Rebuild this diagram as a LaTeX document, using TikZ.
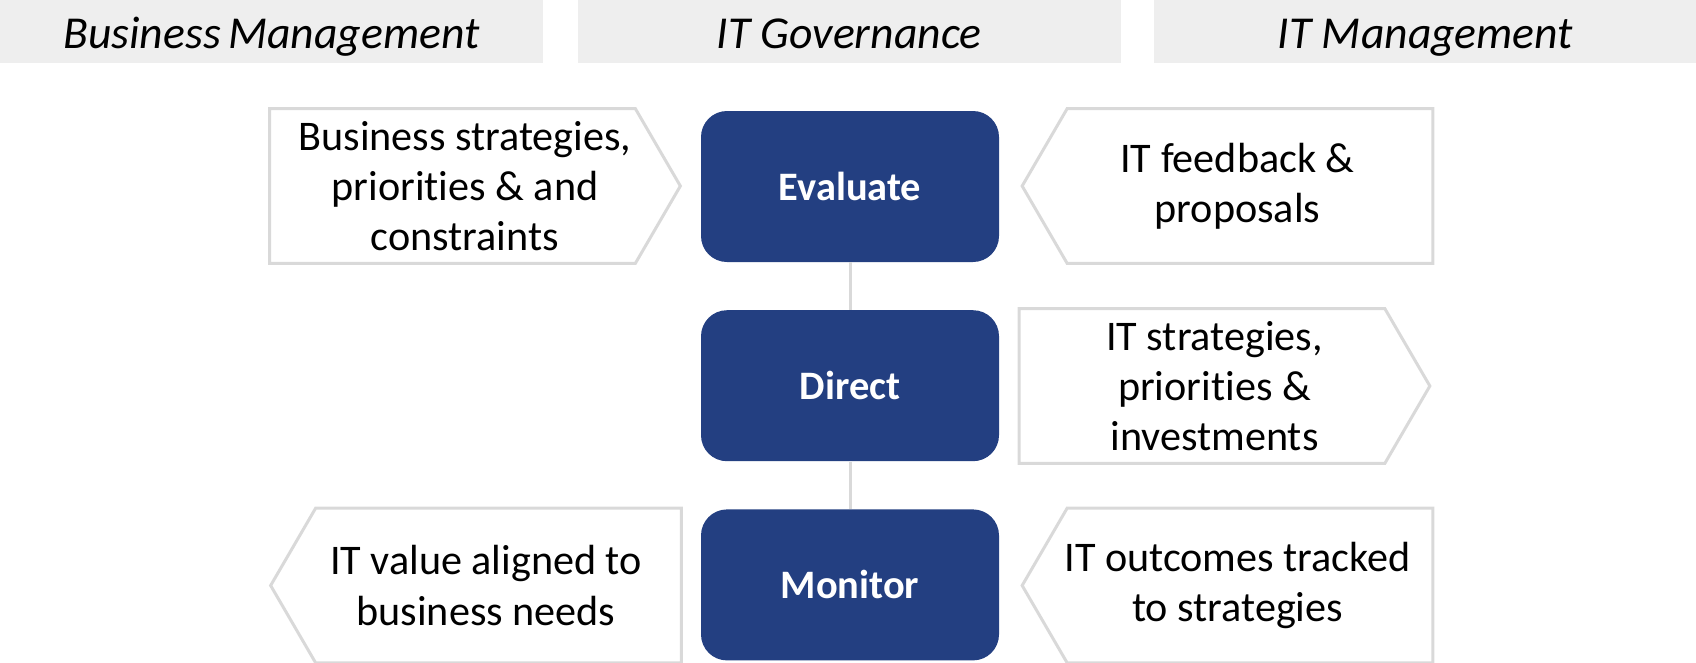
\documentclass[tikz,border=0pt]{standalone}
\usepackage{fontspec}
\setmainfont{Carlito}[Ligatures=NoCommon]
\usetikzlibrary{positioning, calc}
\definecolor{govblue}{HTML}{233F81}
\definecolor{govline}{HTML}{D9D9D9}
\definecolor{govhead}{HTML}{EEEEEE}

\begin{document}
\begin{tikzpicture}[
    head/.style={fill=govhead, minimum width=10.86cm, minimum height=1.26cm,
      inner sep=0pt, text height=22.8pt, text depth=4pt,
      font=\fontsize{26}{31}\selectfont\itshape},
    stage/.style={fill=govblue, rounded corners=0.52cm, minimum width=5.96cm,
      minimum height=3.02cm, text=white, font=\fontsize{23}{28}\selectfont\bfseries},
    note/.style={minimum width=7.8cm, minimum height=3.08cm, align=center,
      inner sep=0pt, font=\fontsize{24}{28.5}\selectfont},
    outline/.style={draw=govline, line width=0.06cm, line join=miter},
    link/.style={draw=govline, line width=0.06cm}
  ]
  \useasboundingbox (0,0) rectangle (33.92,-13.24);

  % column headings
  \node[head] (bm)  at (5.43,-0.63)  {Business\,Management};
  \node[head] (itg) at (16.98,-0.63) {IT Governance};
  \node[head] (itm) at (28.51,-0.63) {IT Management};

  % governance cycle
  \node[stage] (eval) at (17.0,-3.73) {Evaluate};
  \node[stage, below=0.95cm of eval] (direct) {Direct};
  \node[stage, below=0.95cm of direct] (monitor) {Monitor};
  \draw[link] (eval) -- (direct);
  \draw[link] (direct) -- (monitor);

  % inputs and outputs (the text sits a bit towards the tip)
  \node[note] (bizin)  at (9.30,-3.72)  {Business strategies,\\priorities \& and\\constraints};
  \node[note] (itfb)   at (24.75,-3.72) {IT feedback \&\\proposals};
  \node[note] (itdir)  at (24.29,-7.72) {IT strategies,\\priorities \&\\investments};
  \node[note] (bizout) at (9.72,-11.71) {IT value aligned to\\business needs};
  \node[note] (itout)  at (24.75,-11.71) {IT outcomes tracked\\to strategies};

  \foreach \n in {bizin, itdir} {
    \draw[outline] (\n.north west) -- ($(\n.north east)+(-0.5,0)$) -- ($(\n.east)+(0.4,0)$)
      -- ($(\n.south east)+(-0.5,0)$) -- (\n.south west) -- cycle;
  }
  \foreach \n in {itfb, bizout, itout} {
    \draw[outline] (\n.north east) -- ($(\n.north west)+(0.5,0)$) -- ($(\n.west)+(-0.4,0)$)
      -- ($(\n.south west)+(0.5,0)$) -- (\n.south east) -- cycle;
  }
\end{tikzpicture}
\end{document}
